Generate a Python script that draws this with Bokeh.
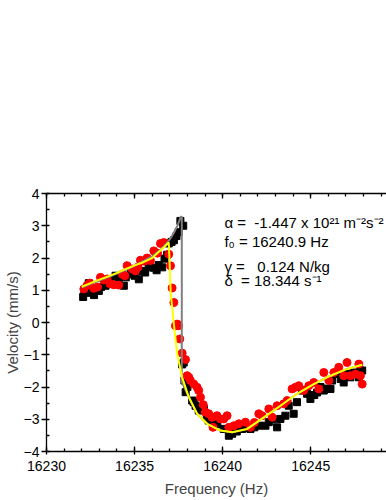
from bokeh.plotting import figure
from bokeh.models import Range1d, LinearAxis, Label, SingleIntervalTicker
from bokeh.embed import file_html
from bokeh.resources import INLINE

# ---- data ----
black_x = [16232.08, 16232.15, 16232.4, 16232.5, 16232.7, 16232.97, 16233.1, 16233.35, 16233.63, 16233.92,
           16234.1, 16234.39, 16234.5, 16234.77, 16235.0, 16235.24, 16235.43, 16235.6, 16235.8, 16236.09,
           16236.25, 16236.37, 16236.57, 16236.7, 16236.85, 16236.94, 16237.1, 16237.23, 16237.38, 16237.5,
           16237.6, 16237.76,
           16237.7, 16237.79, 16237.83, 16237.9, 16238.0, 16238.27, 16238.36, 16238.46, 16238.64, 16238.93,
           16239.1, 16239.21, 16239.5, 16239.7, 16240.06, 16240.35, 16240.54, 16240.8, 16241.1, 16241.35,
           16241.58, 16241.8, 16242.05, 16242.43, 16242.62, 16242.85, 16243.09, 16243.28, 16243.56, 16243.75,
           16244.03, 16244.22, 16244.51, 16244.79, 16244.98, 16245.2, 16245.36, 16245.55, 16245.74, 16245.95,
           16246.12, 16246.21, 16246.5, 16246.7, 16246.87, 16247.06, 16247.25, 16247.44, 16247.73, 16247.82,
           16247.92]
black_y = [0.79, 1.0, 1.22, 0.92, 0.85, 0.98, 1.1, 1.14, 1.29, 1.45,
           1.38, 1.14, 1.4, 1.5, 1.45, 1.34, 1.6, 1.55, 1.71, 1.7,
           1.62, 1.78, 1.71, 1.98, 2.1, 2.45, 2.5, 2.55, 2.68, 2.8,
           3.15, 3.0,
           -1.3, -1.24, -1.8, -2.16, -2.0, -2.42, -2.47, -2.58, -2.73, -2.68,
           -2.9, -3.04, -3.09, -3.15, -3.3, -3.51, -3.45, -3.38, -3.3, -3.28,
           -3.3, -3.25, -3.2, -3.2, -3.09, -3.0, -3.25, -2.99, -2.89, -2.58,
           -2.83, -2.47, -2.11, -2.21, -2.37, -2.25, -2.17, -2.0, -2.11, -2.05,
           -2.06, -1.8, -1.6, -1.75, -1.86, -1.6, -1.7, -1.55, -1.7, -1.49,
           -1.49]

red_x = [16232.12, 16232.3, 16232.45, 16232.68, 16232.9, 16233.06, 16233.25, 16233.44, 16233.6, 16233.82,
         16234.1, 16234.3, 16234.45, 16234.58, 16234.86, 16235.05, 16235.2, 16235.33, 16235.55, 16235.71,
         16235.9, 16236.09, 16236.3, 16236.47, 16236.66, 16236.94, 16237.04, 16237.13, 16237.23,
         16237.32, 16237.42, 16237.5, 16237.57, 16237.7, 16237.89, 16237.98, 16238.08, 16238.17, 16238.36,
         16238.55, 16238.64, 16238.74, 16238.9, 16239.02, 16239.21, 16239.4, 16239.45, 16239.68, 16239.87,
         16240.06, 16240.25, 16240.35, 16240.64, 16240.92, 16241.29, 16241.58, 16241.8, 16242.05, 16242.24,
         16242.62, 16242.81, 16243.09, 16243.47, 16243.66, 16243.94, 16244.13, 16244.32, 16244.6, 16244.89,
         16245.17, 16245.46, 16245.74, 16246.03, 16246.31, 16246.59, 16246.87, 16247.06, 16247.25, 16247.54,
         16247.73, 16247.82, 16247.92]
red_y = [1.04, 1.15, 1.22, 1.06, 1.1, 1.4, 1.32, 1.35, 1.2, 1.17,
         1.16, 1.5, 1.45, 1.76, 1.66, 1.6, 1.72, 1.93, 1.9, 2.0,
         1.92, 2.22, 2.15, 2.45, 2.48, 2.12, 1.76, 1.07, 0.62,
         -0.1, -0.05, -0.1, -0.51, -0.95, -1.15, -1.65, -1.7, -1.8, -1.91,
         -2.01, -2.11, -2.32, -2.55, -2.78, -2.83, -2.94, -3.25, -2.89, -2.99,
         -2.99, -2.89, -3.25, -3.2, -3.14, -3.09, -3.25, -3.1, -2.83, -2.89,
         -2.68, -2.94, -2.58, -2.52, -2.42, -2.06, -2.01, -1.96, -2.11, -1.96,
         -1.86, -2.06, -1.55, -1.8, -1.55, -1.39, -1.65, -1.24, -1.65, -1.6,
         -1.29, -1.65, -1.91]

gray_x = [16232.0, 16233.0, 16234.0, 16235.0, 16236.0, 16236.5, 16236.9, 16237.2, 16237.45, 16237.62,
          16237.68, 16237.68, 16237.9, 16238.08, 16238.55, 16239.12, 16239.87, 16240.54, 16241.39, 16242.34,
          16243.28, 16244.22, 16245.17, 16246.12, 16247.07, 16247.92]
gray_y = [1.09, 1.3, 1.52, 1.76, 2.05, 2.27, 2.5, 2.75, 3.02, 3.28,
          3.28, -1.85, -2.1, -2.32, -2.83, -3.14, -3.35, -3.4, -3.3, -2.94,
          -2.58, -2.21, -1.91, -1.65, -1.44, -1.31]

yellow_x = [16232.0, 16232.5, 16233.0, 16233.5, 16234.0, 16234.5, 16235.0, 16235.5, 16236.0, 16236.4,
            16236.7, 16236.94, 16237.0, 16237.05, 16237.13, 16237.23, 16237.42, 16237.7, 16238.08, 16238.55,
            16239.12, 16239.87, 16240.54, 16241.39, 16242.34, 16243.28, 16244.22, 16245.17, 16246.12, 16247.07,
            16247.92]
yellow_y = [1.11, 1.22, 1.33, 1.43, 1.54, 1.66, 1.77, 1.87, 2.0, 2.2,
            2.35, 2.48, 1.7, 0.9, 0.5, -0.05, -0.98, -1.7, -2.32, -2.83,
            -3.14, -3.35, -3.4, -3.3, -2.94, -2.58, -2.21, -1.91, -1.65, -1.44,
            -1.31]

x_ticks_major = 5
y_ticks_major = 1
NB = "\u00a0"
param_lines = ["α =" + NB * 2 + "-1.447 x 10²¹ m⁻²s⁻²",
               "f₀ = 16240.9 Hz",
               "γ =" + NB * 3 + "0.124 N/kg",
               "δ" + NB * 2 + "= 18.344 s⁻¹"]
param_y = [3.09, 2.5, 1.73, 1.3]

FONT = "Liberation Sans"

p = figure(width=386, height=500, output_backend="svg", toolbar_location=None,
           x_range=Range1d(16230, 16249.3), y_range=Range1d(-4, 4),
           min_border_left=40, min_border_right=0, min_border_top=193, min_border_bottom=49,
           background_fill_color="white", border_fill_color="white")
p.outline_line_color = None
p.xgrid.visible = False
p.ygrid.visible = False

p.scatter(black_x, black_y, marker="square", size=7, color="black", line_color="black")
p.scatter(red_x, red_y, marker="circle", size=8, fill_color="#ff0000", line_color="#ff0000")
p.line(gray_x, gray_y, line_color="#808080", line_width=2)
p.line(yellow_x, yellow_y, line_color="#ffff00", line_width=2)

xt = SingleIntervalTicker(interval=x_ticks_major, num_minor_ticks=5)
yt = SingleIntervalTicker(interval=y_ticks_major, num_minor_ticks=2)

ax = p.xaxis[0]
ax.ticker = xt
ax.major_tick_in = 5
ax.major_tick_out = 3
ax.minor_tick_in = 3
ax.minor_tick_out = 0
ax.axis_line_width = 1.3
ax.major_tick_line_width = 1.3
ax.minor_tick_line_width = 1.3
ax.major_label_text_font = FONT
ax.major_label_text_font_size = "14px"
ax.major_label_text_color = "black"
ax.major_label_standoff = 6
ax.axis_label = "Frequency (Hz)"
ax.axis_label_text_font = FONT
ax.axis_label_text_font_size = "15px"
ax.axis_label_text_font_style = "normal"
ax.axis_label_standoff = 6

ay = p.yaxis[0]
ay.ticker = yt
ay.major_tick_in = 0
ay.major_tick_out = 5
ay.minor_tick_in = 3
ay.minor_tick_out = 0
ay.axis_line_width = 1.3
ay.major_tick_line_width = 1.3
ay.minor_tick_line_width = 1.3
ay.major_label_text_font = FONT
ay.major_label_text_font_size = "14px"
ay.major_label_text_color = "black"
ay.major_label_standoff = 2
ay.axis_label = "Velocity (mm/s)"
ay.axis_label_text_font = FONT
ay.axis_label_text_font_size = "15px"
ay.axis_label_text_font_style = "normal"
ay.axis_label_standoff = 0

top = LinearAxis(ticker=SingleIntervalTicker(interval=x_ticks_major, num_minor_ticks=5),
                 major_tick_in=5, major_tick_out=0, minor_tick_in=3, minor_tick_out=0,
                 axis_line_width=1.3, major_tick_line_width=1.3, minor_tick_line_width=1.3,
                 major_label_text_font_size="0px", major_label_text_color=None)
p.add_layout(top, "above")

for t, yy in zip(param_lines, param_y):
    p.add_layout(Label(x=16240.1, y=yy, text=t, text_font=FONT, text_font_size="15px",
                       text_align="left", text_baseline="middle", text_color="black"))

open("out.html", "w").write(file_html(p, INLINE))
